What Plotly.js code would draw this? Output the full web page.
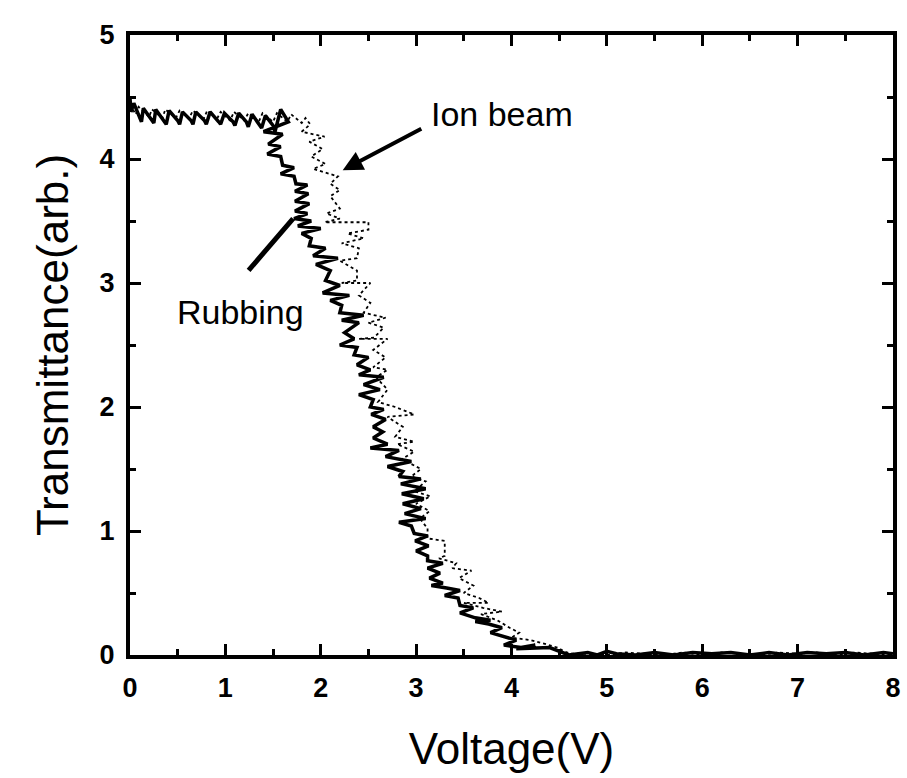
<!DOCTYPE html>
<html>
<head>
<meta charset="utf-8">
<script src="https://cdn.plot.ly/plotly-3.0.1.min.js"></script>
<style>html,body{margin:0;padding:0;background:#fff;}#chart{width:907px;height:778px;}</style>
</head>
<body>
<div id="chart"></div>
<script>
// Rubbing (solid) series
const rubbingX = [0,0.01,0.04,0.10,0.12,0.14,0.22,0.25,0.27,0.36,0.38,0.41,0.50,0.52,0.55,0.64,0.66,0.69,0.78,0.80,0.84,0.93,0.95,0.99,1.08,1.10,1.14,1.22,1.24,1.28,1.36,1.38,1.42,1.50,1.52,1.58,1.66,
  1.40,1.60,1.45,1.58,1.44,1.58,1.60,1.72,1.58,1.72,1.74,1.86,1.73,1.87,1.73,1.88,1.73,1.86,1.72,1.90,1.76,2.00,1.80,1.90,1.88,2.05,1.92,2.18,1.95,2.10,2.05,2.20,2.02,2.30,2.10,2.22,2.20,2.45,2.22,2.40,2.25,2.35,2.20,2.38,2.35,2.50,2.38,2.52,2.40,2.66,2.45,2.62,2.40,2.55,2.52,2.66,2.53,2.68,2.55,2.65,2.55,2.70,2.52,2.82,2.68,2.95,2.70,2.86,2.82,3.05,2.84,3.10,2.85,3.08,2.86,3.05,2.88,3.10,2.82,2.95,2.98,3.12,2.99,3.13,3.00,3.12,3.12,3.28,3.12,3.25,3.14,3.28,3.16,3.32,3.46,3.30,3.44,3.46,3.60,3.46,3.62,3.78,3.62,3.76,3.90,3.78,3.92,4.05,3.92,4.10,4.25,4.05,4.40,4.50,4.55,
  4.60,4.80,4.90,5.00,5.10,5.30,5.50,5.70,5.90,6.10,6.30,6.50,6.70,6.90,7.10,7.30,7.50,7.70,7.90,8.00];
const rubbingY = [4.49,4.38,4.45,4.33,4.30,4.41,4.33,4.29,4.40,4.31,4.28,4.39,4.31,4.28,4.38,4.31,4.28,4.38,4.31,4.28,4.38,4.30,4.28,4.37,4.30,4.27,4.37,4.30,4.26,4.36,4.28,4.25,4.35,4.27,4.22,4.40,4.30,
  4.22,4.20,4.12,4.10,4.04,4.02,3.95,3.93,3.88,3.86,3.80,3.79,3.74,3.72,3.66,3.64,3.58,3.56,3.52,3.50,3.46,3.44,3.40,3.36,3.30,3.28,3.22,3.20,3.15,3.10,3.02,2.98,2.92,2.90,2.86,2.82,2.76,2.74,2.70,2.68,2.60,2.55,2.50,2.48,2.42,2.40,2.34,2.30,2.26,2.24,2.18,2.14,2.10,2.06,2.00,1.98,1.94,1.90,1.84,1.80,1.75,1.70,1.67,1.65,1.60,1.56,1.52,1.48,1.44,1.42,1.38,1.34,1.30,1.26,1.22,1.18,1.14,1.10,1.07,1.04,0.98,0.96,0.92,0.88,0.84,0.80,0.76,0.74,0.70,0.66,0.62,0.58,0.56,0.54,0.52,0.48,0.46,0.40,0.38,0.34,0.30,0.28,0.27,0.25,0.22,0.18,0.15,0.12,0.08,0.06,0.08,0.05,0.06,0.03,0.01,
  0.00,0.02,0.00,0.03,0.01,0.00,0.02,0.00,0.02,0.01,0.02,0.00,0.02,0.00,0.02,0.01,0.02,0.00,0.02,0.01];

// Ion beam (dotted) series
const ionX = [0,0.06,0.09,0.20,0.23,0.34,0.37,0.48,0.52,0.62,0.66,0.77,0.81,0.91,0.95,1.05,1.09,1.20,1.24,1.35,1.39,1.50,1.54,1.65,1.69,1.80,1.84,1.89,
  1.80,2.04,1.88,2.02,1.90,2.05,1.92,2.08,2.18,2.10,2.20,2.10,2.20,2.06,2.20,2.04,2.50,2.50,2.28,2.45,2.22,2.40,2.38,2.20,2.38,2.38,2.22,2.52,2.40,2.52,2.45,2.68,2.50,2.66,2.56,2.40,2.70,2.55,2.68,2.55,2.70,2.58,2.70,2.60,2.78,2.98,2.70,2.86,2.78,2.98,2.80,2.98,2.85,3.05,2.95,3.10,2.98,3.15,3.00,3.14,3.04,3.12,3.12,3.30,3.30,3.24,3.42,3.38,3.58,3.45,3.60,3.50,3.66,3.76,3.50,3.70,3.90,3.68,3.85,3.98,4.08,4.00,4.20,4.35,4.48,4.55,4.62,
  4.80,5.00,5.20,5.40,5.60,5.80,6.00,6.20,6.40,6.60,6.80,7.00,7.20,7.40,7.60,7.80,8.00];
const ionY = [4.44,4.36,4.42,4.34,4.40,4.33,4.40,4.33,4.39,4.33,4.39,4.32,4.39,4.32,4.38,4.31,4.38,4.31,4.37,4.30,4.37,4.30,4.37,4.30,4.36,4.29,4.33,4.28,
  4.22,4.18,4.14,4.08,4.02,3.96,3.92,3.88,3.86,3.80,3.75,3.70,3.60,3.56,3.52,3.49,3.49,3.43,3.40,3.36,3.32,3.28,3.20,3.18,3.10,3.02,3.00,3.00,2.90,2.84,2.76,2.72,2.68,2.64,2.56,2.55,2.55,2.46,2.40,2.32,2.30,2.24,2.14,2.04,2.00,1.94,1.92,1.84,1.76,1.72,1.70,1.64,1.58,1.50,1.44,1.40,1.32,1.28,1.22,1.16,1.10,1.02,0.94,0.92,0.80,0.78,0.74,0.70,0.68,0.62,0.56,0.50,0.46,0.42,0.42,0.38,0.35,0.33,0.28,0.22,0.18,0.14,0.12,0.09,0.06,0.03,0.01,
  0.01,0.00,0.02,0.01,0.00,0.02,0.00,0.02,0.01,0.00,0.02,0.01,0.02,0.00,0.02,0.01,0.00];

const xTicks = [0,1,2,3,4,5,6,7,8];
const yTicks = [0,1,2,3,4,5];

const traces = [
  {x: rubbingX, y: rubbingY, type: 'scatter', mode: 'lines', name: 'Rubbing',
   line: {color: '#000', width: 3.5}},
  {x: ionX, y: ionY, type: 'scatter', mode: 'lines', name: 'Ion beam',
   line: {color: '#000', width: 1.8, dash: 'dot'}}
];

const tickFont = {family: 'Liberation Sans, Arial, sans-serif', size: 27, color: '#000', weight: 'bold'};
const titleFont = {family: 'Liberation Sans, Arial, sans-serif', size: 44, color: '#000'};

const layout = {
  width: 907, height: 778,
  margin: {l: 130, r: 14, t: 35, b: 123},
  paper_bgcolor: '#fff', plot_bgcolor: '#fff',
  showlegend: false,
  xaxis: {
    range: [0, 8], tickvals: xTicks, ticktext: xTicks.map(String),
    ticks: 'inside', ticklen: 11, tickwidth: 3, tickcolor: '#000',
    minor: {dtick: 0.5, ticks: 'inside', ticklen: 6, tickwidth: 3, tickcolor: '#000'},
    showline: true, linewidth: 4, linecolor: '#000', mirror: 'ticks',
    showgrid: false, zeroline: false,
    tickfont: tickFont, ticklabelstandoff: 6,
    title: {text: 'Voltage(V)', font: titleFont, standoff: 32}
  },
  yaxis: {
    range: [0, 5], tickvals: yTicks, ticktext: yTicks.map(String),
    ticks: 'inside', ticklen: 11, tickwidth: 3, tickcolor: '#000',
    minor: {dtick: 0.5, ticks: 'inside', ticklen: 6, tickwidth: 3, tickcolor: '#000'},
    showline: true, linewidth: 4, linecolor: '#000', mirror: 'ticks',
    showgrid: false, zeroline: false,
    tickfont: tickFont, ticklabelstandoff: 6,
    title: {text: 'Transmittance(arb.)', font: titleFont, standoff: 18}
  },
  annotations: [
    {x: 2.23, y: 3.91, ax: 3.07, ay: 4.25, axref: 'x', ayref: 'y', xref: 'x', yref: 'y',
     text: '', showarrow: true, arrowhead: 2, arrowsize: 1, arrowwidth: 4, arrowcolor: '#000'},
    {x: 1.71, y: 3.52, ax: 1.23, ay: 3.09, axref: 'x', ayref: 'y', xref: 'x', yref: 'y',
     text: '', showarrow: true, arrowhead: 0, arrowwidth: 5, arrowcolor: '#000'},
    {x: 3.9, y: 4.36, xref: 'x', yref: 'y', text: 'Ion beam', showarrow: false,
     font: {family: 'Liberation Sans, Arial, sans-serif', size: 34, color: '#000'}},
    {x: 1.16, y: 2.77, xref: 'x', yref: 'y', text: 'Rubbing', showarrow: false,
     font: {family: 'Liberation Sans, Arial, sans-serif', size: 34, color: '#000'}}
  ]
};

Plotly.newPlot('chart', traces, layout, {displayModeBar: false, staticPlot: true});
</script>
</body>
</html>
